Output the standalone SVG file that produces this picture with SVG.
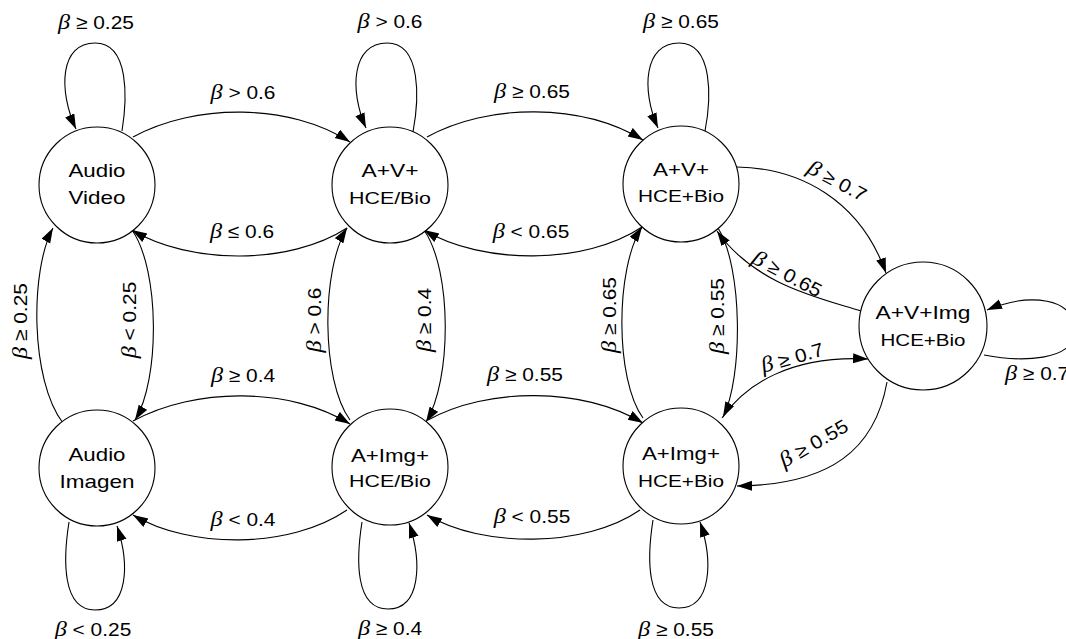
<svg xmlns="http://www.w3.org/2000/svg" width="1066" height="639" viewBox="0 0 1066 639">
<defs>
<marker id="ah" markerUnits="userSpaceOnUse" markerWidth="16" markerHeight="12" refX="15" refY="5" orient="auto">
<path d="M0,0 L15,5 L0,10 z" fill="#000"/>
</marker>
<style>
.n circle{fill:#fff;stroke:#000;stroke-width:1.1}
.n text{font-family:"Liberation Sans",Arial,sans-serif;text-anchor:middle;fill:#000}
.t1{font-size:19px}
.t2{font-size:17px}
#edges path{fill:none;stroke:#000;stroke-width:1.1}
.a{marker-end:url(#ah)}
.lb{font-family:"Liberation Sans",Arial,sans-serif;font-size:19px;text-anchor:middle;fill:#000}
.b{font-family:"Liberation Serif","Times New Roman",serif;font-style:italic;font-size:22px}
</style>
</defs>
<rect width="1066" height="639" fill="#fff"/>

<g id="edges">
<path class="a" d="M133,137 C195,103 290,103 350,142"/>
<path class="a" d="M347,228 C290,265 190,265 132,230"/>
<path class="a" d="M427,137 C488,103 582,103 643,140"/>
<path class="a" d="M642,227 C585,265 482,265 424,230"/>
<path class="a" d="M133,421 C195,387 290,387 350,424"/>
<path class="a" d="M347,510 C290,549 190,549 133,515"/>
<path class="a" d="M428,420 C488,387 582,387 643,423"/>
<path class="a" d="M640,510 C585,548 482,548 427,515"/>
<path class="a" d="M63,423 C30,380 30,270 53,228"/>
<path class="a" d="M132,230 C160,270 160,380 135,420"/>
<path class="a" d="M350,420 C321,380 321,270 347,228"/>
<path class="a" d="M424,230 C452,270 452,380 426,422"/>
<path class="a" d="M643,418 C615,380 615,268 642,227"/>
<path class="a" d="M718,228 C743,268 743,378 723,417"/>
<path class="a" d="M737,167 C800,168 860,200 886,273"/>
<path class="a" d="M861,311 C820,298 755,285 717,231"/>
<path class="a" d="M722,418 C745,385 790,355 868,359"/>
<path class="a" d="M887,382 C875,450 830,485 737,486"/>
<path class="a" d="M984,355 C1020,362 1075,362 1075,330 C1075,298 1030,292 987,310"/>
<path class="a" d="M122,131 C127,100 130,43 95,43 C60,43 58,90 76,129"/>
<path class="a" d="M413,132 C419,100 422,43 387,43 C352,43 349,90 366,128"/>
<path class="a" d="M705,131 C711,100 714,43 679,43 C644,43 641,90 658,128"/>
<path class="a" d="M69,522 C63,560 62,610 95,610 C128,610 130,565 117,526"/>
<path class="a" d="M362,522 C356,560 355,609 388,609 C421,609 422,562 409,523"/>
<path class="a" d="M653,520 C647,558 646,608 679,608 C712,608 713,560 700,522"/>
</g>

<g id="labels">
<text class="lb" transform="translate(96,29) scale(1.1,1)"><tspan class="b">β</tspan> ≥ 0.25</text>
<text class="lb" transform="translate(390,28) scale(1.1,1)"><tspan class="b">β</tspan> &gt; 0.6</text>
<text class="lb" transform="translate(681,28) scale(1.1,1)"><tspan class="b">β</tspan> ≥ 0.65</text>
<text class="lb" transform="translate(93,636) scale(1.1,1)"><tspan class="b">β</tspan> &lt; 0.25</text>
<text class="lb" transform="translate(390,635) scale(1.1,1)"><tspan class="b">β</tspan> ≥ 0.4</text>
<text class="lb" transform="translate(676,636) scale(1.1,1)"><tspan class="b">β</tspan> ≥ 0.55</text>
<text class="lb" transform="translate(243,99) scale(1.1,1)"><tspan class="b">β</tspan> &gt; 0.6</text>
<text class="lb" transform="translate(242,238) scale(1.1,1)"><tspan class="b">β</tspan> ≤ 0.6</text>
<text class="lb" transform="translate(532,98) scale(1.1,1)"><tspan class="b">β</tspan> ≥ 0.65</text>
<text class="lb" transform="translate(531,238) scale(1.1,1)"><tspan class="b">β</tspan> &lt; 0.65</text>
<text class="lb" transform="translate(243,382) scale(1.1,1)"><tspan class="b">β</tspan> ≥ 0.4</text>
<text class="lb" transform="translate(243,526) scale(1.1,1)"><tspan class="b">β</tspan> &lt; 0.4</text>
<text class="lb" transform="translate(525,381) scale(1.1,1)"><tspan class="b">β</tspan> ≥ 0.55</text>
<text class="lb" transform="translate(532,523) scale(1.1,1)"><tspan class="b">β</tspan> &lt; 0.55</text>
<text class="lb" transform="translate(27,321) rotate(-90) scale(1.1,1)"><tspan class="b">β</tspan> ≥ 0.25</text>
<text class="lb" transform="translate(136,320) rotate(-90) scale(1.1,1)"><tspan class="b">β</tspan> &lt; 0.25</text>
<text class="lb" transform="translate(321,320) rotate(-90) scale(1.1,1)"><tspan class="b">β</tspan> &gt; 0.6</text>
<text class="lb" transform="translate(431,320) rotate(-90) scale(1.1,1)"><tspan class="b">β</tspan> ≥ 0.4</text>
<text class="lb" transform="translate(616,315) rotate(-90) scale(1.1,1)"><tspan class="b">β</tspan> ≥ 0.65</text>
<text class="lb" transform="translate(724,316) rotate(-90) scale(1.1,1)"><tspan class="b">β</tspan> ≥ 0.55</text>
<text class="lb" transform="translate(834,187) rotate(28) scale(1.1,1)"><tspan class="b">β</tspan> ≥ 0.7</text>
<text class="lb" transform="translate(784,280) rotate(28) scale(1.1,1)"><tspan class="b">β</tspan> ≥ 0.65</text>
<text class="lb" transform="translate(794,364) rotate(-16) scale(1.1,1)"><tspan class="b">β</tspan> ≥ 0.7</text>
<text class="lb" transform="translate(817,449) rotate(-30) scale(1.1,1)"><tspan class="b">β</tspan> ≥ 0.55</text>
<text class="lb" style="text-anchor:start" transform="translate(1005,380) scale(1.1,1)"><tspan class="b">β</tspan> ≥ 0.7</text>
</g>

<g id="n1" class="n"><circle cx="97" cy="185" r="58"/>
<text class="t1" x="97" y="177" textLength="57" lengthAdjust="spacingAndGlyphs">Audio</text>
<text class="t1" x="97" y="204" textLength="57" lengthAdjust="spacingAndGlyphs">Video</text></g>
<g id="n2" class="n"><circle cx="390" cy="185" r="58"/>
<text class="t1" x="390" y="177" textLength="57" lengthAdjust="spacingAndGlyphs">A+V+</text>
<text class="t2" x="390" y="204" textLength="82" lengthAdjust="spacingAndGlyphs">HCE/Bio</text></g>
<g id="n3" class="n"><circle cx="681" cy="184" r="58"/>
<text class="t1" x="681" y="176" textLength="56" lengthAdjust="spacingAndGlyphs">A+V+</text>
<text class="t2" x="681" y="202" textLength="86" lengthAdjust="spacingAndGlyphs">HCE+Bio</text></g>
<g id="n4" class="n"><circle cx="923" cy="326" r="64"/>
<text class="t1" x="923" y="319" textLength="95" lengthAdjust="spacingAndGlyphs">A+V+Img</text>
<text class="t2" x="923" y="346" textLength="85" lengthAdjust="spacingAndGlyphs">HCE+Bio</text></g>
<g id="n5" class="n"><circle cx="97" cy="468" r="58"/>
<text class="t1" x="97" y="461" textLength="57" lengthAdjust="spacingAndGlyphs">Audio</text>
<text class="t1" x="97" y="488" textLength="75" lengthAdjust="spacingAndGlyphs">Imagen</text></g>
<g id="n6" class="n"><circle cx="390" cy="467" r="58"/>
<text class="t1" x="390" y="462" textLength="78" lengthAdjust="spacingAndGlyphs">A+Img+</text>
<text class="t2" x="390" y="487" textLength="82" lengthAdjust="spacingAndGlyphs">HCE/Bio</text></g>
<g id="n7" class="n"><circle cx="681" cy="466" r="58"/>
<text class="t1" x="681" y="460" textLength="78" lengthAdjust="spacingAndGlyphs">A+Img+</text>
<text class="t2" x="681" y="487" textLength="86" lengthAdjust="spacingAndGlyphs">HCE+Bio</text></g>
</svg>
